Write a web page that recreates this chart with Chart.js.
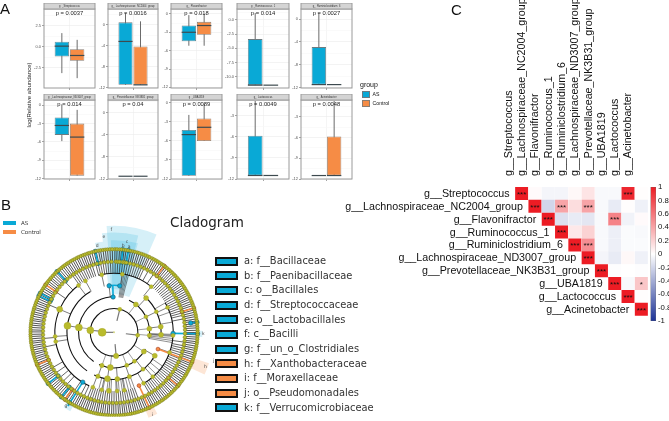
<!DOCTYPE html>
<html>
<head>
<meta charset="utf-8">
<script src="https://cdn.jsdelivr.net/npm/chart.js@4"></script>
<style>
  html, body { margin: 0; padding: 0; background: #fff; }
  body { position: relative; width: 669px; height: 421px; overflow: hidden; font-family: "Liberation Sans", sans-serif; }
  canvas { position: absolute; }
  .t { position: absolute; white-space: pre; color: #111; }
  .sw { position: absolute; box-sizing: border-box; }
</style>
</head>
<body>
<script>
// genera, shared by the box panels and the correlation matrix
const genera = ["Streptococcus", "Lachnospiraceae_NC2004_group", "Flavonifractor", "Ruminococcus_1",
  "Ruminiclostridium_6", "Lachnospiraceae_ND3007_group", "Prevotellaceae_NK3B31_group", "UBA1819",
  "Lactococcus", "Acinetobacter"];

// A: box panels
const pLabels = ["0.0037", "0.0016", "0.018", "0.014", "0.0027", "0.014", "0.04", "0.0089", "0.0049", "0.0048"];
const asLow = [-3.13, -11.5, -5.2, -11.5, -11.5, -5.86, -11.5, -11.5, -11.5, -11.5];
const asQ1 = [-1.15, -11.5, -4.46, -11.5, -11.5, -4.84, -11.5, -11.5, -11.5, -11.5];
const asMedian = [0.08, -3.2, -3, -11.5, -11.5, -3.3, -11.5, -5, -11.5, -11.5];
const asQ3 = [0.6, 0.45, -1.9, -3.4, -4.9, -2, -11.5, -4.27, -5.85, -11.5];
const asHigh = [1.63, 2.2, -0.2, 1.2, 1.1, 0.16, -11.5, -1.9, -0.9, -11.5];
const ctlLow = [-3.73, -11.5, -5.2, -11.5, -11.5, -11.5, -11.5, -6, -11.5, -11.5];
const ctlQ1 = [-1.67, -11.5, -3.4, -11.5, -11.5, -11.5, -11.5, -6, -11.5, -11.5];
const ctlMedian = [-1.03, -11.5, -1.9, -11.5, -11.5, -5.2, -11.5, -3.85, -11.5, -11.5];
const ctlQ3 = [-0.28, -4.17, -1.3, -11.5, -11.5, -3, -11.5, -2.45, -11.5, -5.85];
const ctlHigh = [0.83, 0.64, 0, -11.5, -11.5, -0.75, -11.5, -0.2, -11.5, -0.75];
const yMins = [-4.9, -12.1, -12.1, -12, -12.1, -12.05, -12, -12, -12, -12];
const yMaxs = [4.5, 3, 0.8, 1.9, 1.8, 0.86, 2.3, 0.45, -0.76, -0.6];
const yTicks = [[2.5, 0, -2.5], [0, -4, -8, -12], [0, -3, -6, -9, -12], [0, -2.5, -5, -7.5, -10], [0, -4, -8, -12],
  [0, -3, -6, -9, -12], [0, -4, -8, -12], [0, -3, -6, -9, -12], [-3, -6, -9, -12], [-3, -6, -9, -12]];
const yDecimals = [1, 0, 0, 1, 0, 0, 0, 0, 0, 0];

// C: correlations, upper triangle, one row per genus starting at its diagonal
const corrRows = [
  [1, 0.02, -0.05, -0.05, 0.03, 0.12, -0.03, -0.03, 0.95, 0.01],
  [1, -0.2, 0.4, 0.15, 0.4, -0.03, -0.1, 0.01, -0.07],
  [1, -0.15, -0.1, -0.12, -0.03, 0.55, -0.06, 0.02],
  [1, 0.1, 0.2, -0.03, -0.08, -0.02, -0.03],
  [1, 0.5, -0.03, -0.08, -0.02, -0.02],
  [1, -0.05, -0.1, 0.03, -0.07],
  [1, -0.01, 0, -0.01],
  [1, -0.03, 0.25],
  [1, 0.01],
  [1]
];
const corrStars = [
  ["***", "", "", "", "", "", "", "", "***", ""],
  ["***", "", "***", "", "***", "", "", "", ""],
  ["***", "", "", "", "", "***", "", ""],
  ["***", "", "", "", "", "", ""],
  ["***", "***", "", "", "", ""],
  ["***", "", "", "", ""],
  ["***", "", "", ""],
  ["***", "", "*"],
  ["***", ""],
  ["***"]
];
const barTicks = [1, 0.8, 0.6, 0.4, 0.2, 0, -0.2, -0.4, -0.6, -0.8, -1];

// B: cladogram, angles in degrees clockwise from the top, levels are rings
const ringRadius = [0, 12.4, 24.8, 37, 49, 61.5, 74, 87];
const tipAngles = [0.6,2.1,3.8,5.2,6.9,8.3,9.7,11.4,13,14.5,16.2,17.6,19.3,20.8,22.4,24,25.3,27.1,28.6,30.2,31.7,33.3,35,36.4,38.1,39.5,41.2,42.8,44.3,45.9,47.4,49.1,50.6,52.2,53.8,55.3,57,58.4,60.1,61.7,63.2,64.9,66.3,68,69.6,71.1,72.8,74.3,75.9,77.5,79,80.7,82.1,83.8,85.4,86.9,88.6,90.1,91.7,93.3,94.8,96.5,97.9,99.6,101.2,102.7,104.4,105.8,107.5,109.1,110.6,112.3,113.7,115.4,117,118.5,120.2,121.6,123.3,124.9,126.4,128.1,129.5,131.2,132.8,134.3,136,137.4,139.1,140.7,142.2,143.9,145.3,147,148.6,150.1,151.8,153.2,154.9,156.5,158,159.7,161.1,162.8,164.4,165.9,167.6,169,170.7,172.3,173.8,175.5,176.9,178.6,180.2,181.7,183.4,184.8,186.5,188.1,189.6,191.3,192.7,194.4,196,197.5,199.2,200.6,202.3,203.9,205.4,207.1,208.5,210.2,211.8,213.3,215,216.4,218.1,219.7,221.2,222.9,224.3,226,227.6,229.1,230.8,232.2,233.9,235.5,237,238.7,240.1,241.8,243.4,244.9,246.6,248,249.7,251.3,252.8,254.5,255.9,257.6,259.2,260.7,262.4,263.8,265.5,267.1,268.6,270.3,271.7,273.4,275,276.5,278.2,279.6,281.3,282.9,284.4,286.1,287.5,289.2,290.8,292.3,294,295.4,297.1,298.7,300.2,301.9,303.3,305,306.6,308.1,309.8,311.2,312.9,314.5,316,317.7,319.1,320.8,322.4,323.9,325.6,327,328.7,330.3,331.8,333.5,334.9,336.6,338.2,339.7,341.4,342.8,344.5,346.1,347.6,349.3,350.7,352.4,354,355.5,357.2,358.8];
const midAngles = [1.5,3,4.5,7,8.5,10,13,16,19,22,25,28,31,34,37,40,43,46,49,52,55,58,61,64,67,70,73,76,79,82,85,88,91,94,97,100,103,106,109,112,115,118,121,124,127,130,133,136,139,142,145,148,151,154,157,160,163,166,169,172,175,178,181,184,187,190,193,196,199,202,205,208,211,214,217,220,223,226,229,232,235,238,241,244,247,250,253,256,259,262,265,268,271,274,277,280,283,286,289,292,295,298,301,304,307,310,313,316,319,322,325,328,331,334,337,340,343,346,349,352,355,358];
const midSpokes = [324,326,328,330,332,334,336,338,340,342,345,347,349,351,353,355,357,359,1,3,5,7,9,11,13,15,17,19,21,23,25,29,34,40,42,44,46,48,50,52,54,56,58,60,62,64,66,68,70,72,74,76,79,98,101,103,105,107,109,112,114,116,118,120,122,124,126,128,130,132,134,136,138,140,142,144,146,148,150,160,162,164,166,168,170,172,174,176,178,180,182,184,186,188,190,192,194,196,198,200,202,205,208,214,222,226,230,235,240,258,265,293,305,316];
const fanAngles = [160, 163, 166, 169, 172, 175, 178, 183, 187, 191, 195, 8, 9.5, 11, 12.5, 14, 92, 94, 96, 98, 100, 125, 130, 135, 60, 70, 80];
const fanFrom = [4, 4, 4, 4, 4, 4, 4, 4, 4, 4, 4, 3, 3, 3, 3, 3, 3, 3, 3, 3, 3, 4, 4, 4, 4, 4, 4];
const fanTo = [5, 5, 5, 5, 5, 5, 5, 5, 5, 5, 5, 5, 5, 5, 5, 5, 5, 5, 5, 5, 5, 5, 5, 5, 5, 5, 5];
const innerLevels = [1,2,2,2,2,3,4,5,5,5,5,5,5,3,4,5,3,3,4,5,4,5,4,3,4,3,4,5,3,4,5,3,3,3,4,5,4,4,5,5,4,5,5,5,5];
const innerAngles = [270,275,14,97,175,278,278,293,261,266,323,331,8,38,43,39,84,64,64,65,83,93,93,123,120,145,142,139,186,188,185,159,200,95,200,201,176,161,177,348,354,110,150,170,192];
const innerSizes = [4,3.5,2,2,2.6,3.5,3.5,3,2,2,2,2,2,2.5,2.5,2,2.5,2,2,2,2.5,2,2.5,2.5,2.5,2,2,2,3,3,2.5,2,2.2,2.2,2.2,2,2.5,2.2,2,2,0,2,2,2,2];
const arcLevels = [2, 3, 3, 3, 4, 4, 4, 5, 5, 5];
const arcStarts = [0, 215, 25, 118, 215, 40, 118, 205, 345, 60];
const arcEnds = [360, 360, 100, 205, 330, 95, 205, 325, 40, 150];
const asBranchAngles = [347, 6, 10, 296, 298, 317, 232, 219, 212, 91, 83];
const asBranchFrom = [6, 6, 6, 6, 6, 6, 6, 6, 5, 5, 6.5];
const asBranchTo = [7, 7, 7, 7, 7, 7, 7, 7, 7.3, 7, 7];
const ctlBranchAngles = [305, 247, 216, 73, 37, 111, 130, 155];
const ctlBranchFrom = [6, 6, 6, 6, 6, 4, 6, 5];
const ctlBranchTo = [7, 7, 7, 7, 7, 7, 7, 7];
const wedgeStarts = [-4, -7, -2, 0, 4, -12, 108, 152, 209, 89];
const wedgeEnds = [23.5, 14, 15, 8, 10, -7, 115, 158, 214, 93];
const wedgeOuter = [111, 104, 96, 87, 87, 95, 104, 96, 94, 92];
const wedgeInner = [40, 45, 50, 60, 62, 74, 88, 88, 88, 88];
const wedgeGroup = ["AS", "AS", "AS", "AS", "AS", "AS", "Control", "Control", "AS", "AS"];
const cladeMarks = ["f", "e", "c", "b", "a", "d", "h", "i", "g", "k", "j"];
const cladeAngles = [-1.5, -6, 8, 6, 10, -11, 111, 155, 213, 91, 106];
const cladeRadii = [107, 100, 96, 91, 91, 92, 102, 95, 92, 93, 108];
const cladeEntries = ["a: f__Bacillaceae", "b: f__Paenibacillaceae", "c: o__Bacillales", "d: f__Streptococcaceae",
  "e: o__Lactobacillales", "f: c__Bacilli", "g: f__un_o_Clostridiales", "h: f__Xanthobacteraceae",
  "i: f__Moraxellaceae", "j: o__Pseudomonadales", "k: f__Verrucomicrobiaceae"];
const cladeEntryGroup = ["AS", "AS", "AS", "AS", "AS", "AS", "AS", "Control", "Control", "Control", "AS"];

const groupColor = { AS: "#09a9d6", Control: "#f68c45" };
const olive = "#b9bb2c";

function addText(str, left, top, size, extra) {
  const d = document.createElement("div");
  d.className = "t";
  d.textContent = str;
  d.style.cssText = "left:" + left + "px;top:" + top + "px;font-size:" + size + "px;line-height:1;" + (extra || "");
  document.body.appendChild(d);
}
function addSwatch(left, top, w, h, color, border) {
  const d = document.createElement("div");
  d.className = "sw";
  d.style.cssText = "left:" + left + "px;top:" + top + "px;width:" + w + "px;height:" + h + "px;background:" + color + ";" + (border || "");
  document.body.appendChild(d);
}
function addCanvas(left, top, w, h) {
  const c = document.createElement("canvas");
  c.width = w; c.height = h;
  c.style.cssText = "left:" + left + "px;top:" + top + "px;width:" + w + "px;height:" + h + "px;";
  document.body.appendChild(c);
  return c;
}

// ---- panel A ----
const panelLefts = [44, 108, 171, 237, 301, 44, 108, 171, 237, 301];
const panelRights = [95, 158, 222, 289, 352, 95, 158, 222, 289, 352];
const stripTops = [3, 3, 3, 3, 3, 94, 94, 94, 94, 94];
const panelBottoms = [88, 88, 88, 88, 88, 179, 179, 179, 179, 179];

const boxPlugin = {
  id: "boxParts",
  beforeDatasetsDraw(chart, args, opts) {
    const { ctx, scales: { y } } = chart;
    ctx.save();
    [opts.as, opts.ctl].forEach((s, i) => {
      const el = chart.getDatasetMeta(i).data[0];
      ctx.strokeStyle = "#6b6b6b";
      ctx.lineWidth = 1;
      ctx.beginPath();
      ctx.moveTo(el.x, y.getPixelForValue(s.low));
      ctx.lineTo(el.x, y.getPixelForValue(s.high));
      ctx.stroke();
    });
    ctx.restore();
  },
  afterDatasetsDraw(chart, args, opts) {
    const { ctx, chartArea: a, scales: { y } } = chart;
    ctx.save();
    [opts.as, opts.ctl].forEach((s, i) => {
      const el = chart.getDatasetMeta(i).data[0];
      const py = y.getPixelForValue(s.median);
      ctx.strokeStyle = "#3d4a4f";
      ctx.lineWidth = 1.2;
      ctx.beginPath();
      ctx.moveTo(el.x - el.width / 2, py);
      ctx.lineTo(el.x + el.width / 2, py);
      ctx.stroke();
    });
    // panel frame and strip
    ctx.strokeStyle = "#9a9a9a";
    ctx.lineWidth = 1;
    ctx.strokeRect(a.left, a.top, a.right - a.left, a.bottom - a.top);
    ctx.fillStyle = "#d4d4d4";
    ctx.fillRect(a.left, a.top - 6, a.right - a.left, 6);
    ctx.strokeRect(a.left, a.top - 6, a.right - a.left, 6);
    ctx.fillStyle = "#333";
    ctx.textAlign = "center";
    ctx.textBaseline = "middle";
    ctx.font = '2.6px "Liberation Sans"';
    ctx.fillText(opts.strip, (a.left + a.right) / 2, a.top - 3);
    ctx.font = '5.8px "Liberation Sans"';
    ctx.fillStyle = "#222";
    ctx.fillText("p = " + opts.p, (a.left + a.right) / 2, a.top + 4.2);
    ctx.restore();
  }
};

genera.forEach((name, i) => {
  const w = panelRights[i] - panelLefts[i];
  const h = panelBottoms[i] - stripTops[i];
  const labelled = yTicks[i];
  new Chart(addCanvas(panelLefts[i] - 20, stripTops[i], w + 21, h + 5), {
    type: "bar",
    data: {
      labels: [""],
      datasets: [
        { label: "AS", data: [[asQ1[i], asQ3[i]]], backgroundColor: groupColor.AS, borderColor: "#6d7b80", borderWidth: 0.8, borderSkipped: false },
        { label: "Control", data: [[ctlQ1[i], ctlQ3[i]]], backgroundColor: groupColor.Control, borderColor: "#8a7d72", borderWidth: 0.8, borderSkipped: false }
      ]
    },
    plugins: [boxPlugin],
    options: {
      responsive: false,
      animation: false,
      devicePixelRatio: 1,
      layout: { padding: { top: 6, right: 1, left: 0, bottom: 0 } },
      datasets: { bar: { categoryPercentage: 0.6, barPercentage: 0.94 } },
      plugins: {
        legend: { display: false },
        tooltip: { enabled: false },
        boxParts: {
          strip: "g__" + name, p: pLabels[i],
          as: { low: asLow[i], median: asMedian[i], high: asHigh[i] },
          ctl: { low: ctlLow[i], median: ctlMedian[i], high: ctlHigh[i] }
        }
      },
      scales: {
        x: {
          grid: { offset: false, color: "#eeeeee", lineWidth: 0.6, tickColor: "#666", tickLength: 2 },
          border: { display: false },
          ticks: { padding: 0, font: { size: 1 }, callback: () => "" },
          afterFit: s => { s.height = 5; }
        },
        y: {
          min: yMins[i],
          max: yMaxs[i],
          grid: {
            color: c => (labelled.includes(c.tick.value) ? "#ebebeb" : "#f6f6f6"),
            lineWidth: 0.6,
            tickColor: c => (labelled.includes(c.tick.value) ? "#666" : "rgba(0,0,0,0)"),
            tickLength: 2
          },
          border: { display: false },
          afterBuildTicks: s => {
            const step = Math.abs(labelled[0] - labelled[1]);
            const out = [];
            labelled.forEach(v => {
              out.push({ value: v });
              if (v + step / 2 < yMaxs[i]) out.push({ value: v + step / 2 });
            });
            s.ticks = out;
          },
          ticks: {
            autoSkip: false,
            padding: 1,
            color: "#555",
            font: { size: 4, family: "Liberation Sans" },
            callback: v => (labelled.includes(v) ? v.toFixed(yDecimals[i]) : "")
          },
          afterFit: s => { s.width = 20; }
        }
      }
    }
  });
});

addText("A", 0, 1, 15);
addText("log(Relative abundance)", 29, 95, 6, "color:#222;transform:translate(-50%,-50%) rotate(-90deg);");
addText("group", 360, 81, 7);
addSwatch(362, 90.5, 8, 7.5, groupColor.AS, "border:1px solid #6d7b80;");
addSwatch(362, 99.5, 8, 7.5, groupColor.Control, "border:1px solid #8a7d72;");
addText("AS", 372.5, 91.5, 5.2);
addText("Control", 372.5, 100.5, 5.2);

// ---- panel B ----
const polar = (deg, radius) => ({ x: radius * Math.sin(deg * Math.PI / 180), y: radius * Math.cos(deg * Math.PI / 180) });
const ringPoint = (deg, level) => {
  const lo = Math.floor(level);
  const r = lo >= 7 ? ringRadius[7] + (level - 7) * 13 : ringRadius[lo] + (level - lo) * (ringRadius[lo + 1] - ringRadius[lo]);
  return polar(deg, r);
};

const cladoPlugin = {
  id: "cladoParts",
  beforeDatasetsDraw(chart) {
    const { ctx, scales: { x, y } } = chart;
    const px = p => [x.getPixelForValue(p.x), y.getPixelForValue(p.y)];
    const unit = Math.abs(x.getPixelForValue(1) - x.getPixelForValue(0));
    const [cx, cy] = px({ x: 0, y: 0 });
    const toRad = d => (d - 90) * Math.PI / 180;
    const line = (deg, from, to, color, width) => {
      const a = px(ringPoint(deg, from));
      const b = px(ringPoint(deg, to));
      ctx.strokeStyle = color;
      ctx.lineWidth = width;
      ctx.beginPath();
      ctx.moveTo(a[0], a[1]);
      ctx.lineTo(b[0], b[1]);
      ctx.stroke();
    };
    ctx.save();
    // shaded clades
    wedgeStarts.forEach((s, i) => {
      ctx.fillStyle = wedgeGroup[i] === "AS" ? "rgba(9,169,214,0.17)" : "rgba(246,140,69,0.22)";
      ctx.beginPath();
      ctx.arc(cx, cy, wedgeOuter[i] * unit, toRad(s), toRad(wedgeEnds[i]));
      ctx.arc(cx, cy, wedgeInner[i] * unit, toRad(wedgeEnds[i]), toRad(s), true);
      ctx.closePath();
      ctx.fill();
    });
    // dense tip band, then the sparser inner branches
    tipAngles.forEach(a => line(a, 6, 7, "#333", 0.85));
    midSpokes.forEach(a => line(a, 5, 6, "#222", 0.7));
    fanAngles.forEach((a, i) => line(a, fanFrom[i], fanTo[i], "#444", 0.6));
    innerAngles.forEach((a, i) => line(a, innerLevels[i] - 1, innerLevels[i], innerLevels[i] < 4 ? "#777" : "#444", innerLevels[i] < 3 ? 1.2 : 0.7));
    ctx.strokeStyle = "#111";
    arcLevels.forEach((lv, i) => {
      ctx.lineWidth = 1.1;
      ctx.beginPath();
      ctx.arc(cx, cy, ringRadius[lv] * unit, toRad(arcStarts[i]), toRad(arcEnds[i]));
      ctx.stroke();
    });
    ctx.strokeStyle = "#666";
    ctx.lineWidth = 0.5;
    ctx.beginPath();
    ctx.arc(cx, cy, ringRadius[6] * unit, 0, Math.PI * 2);
    ctx.stroke();
    // enriched branches
    asBranchAngles.forEach((a, i) => line(a, asBranchFrom[i], asBranchTo[i], groupColor.AS, 1.6));
    ctlBranchAngles.forEach((a, i) => line(a, ctlBranchFrom[i], ctlBranchTo[i], groupColor.Control, 1.6));
    line(358.5, 3, 4, groupColor.AS, 1.6);
    ctx.strokeStyle = groupColor.AS;
    ctx.lineWidth = 1.6;
    ctx.beginPath();
    ctx.arc(cx, cy, ringRadius[4] * unit, toRad(354), toRad(367));
    ctx.stroke();
    ctx.restore();
  },
  afterDatasetsDraw(chart) {
    const { ctx, scales: { x, y } } = chart;
    ctx.save();
    ctx.fillStyle = "#444";
    ctx.font = '4.5px "DejaVu Sans"';
    ctx.textAlign = "center";
    ctx.textBaseline = "middle";
    cladeMarks.forEach((m, i) => {
      const p = polar(cladeAngles[i], cladeRadii[i]);
      ctx.fillText(m, x.getPixelForValue(p.x), y.getPixelForValue(p.y));
    });
    ctx.restore();
  }
};

const enrichedNodes = (angles, from, to) => angles.flatMap((a, i) => [ringPoint(a, from[i]), ringPoint(a, Math.min(to[i], 7))]);

new Chart(addCanvas(0, 215, 230, 206), {
  type: "scatter",
  data: {
    datasets: [
      { data: [ringPoint(0, 0)], pointRadius: 1, backgroundColor: "#d9dc8c", borderWidth: 0 },
      { data: innerAngles.map((a, i) => ringPoint(a, innerLevels[i])), pointRadius: innerSizes, backgroundColor: olive, borderColor: "#a3a52a", borderWidth: 0.4 },
      { data: midAngles.map(a => ringPoint(a, 6)), pointRadius: 1.8, backgroundColor: olive, borderColor: "#77791f", borderWidth: 0.5 },
      { data: tipAngles.map(a => ringPoint(a, 7)), pointRadius: 1.7, backgroundColor: olive, borderColor: "#77791f", borderWidth: 0.5 },
      { data: enrichedNodes(asBranchAngles, asBranchFrom, asBranchTo).concat(ringPoint(358.5, 3), ringPoint(354, 4), ringPoint(7, 4)), pointRadius: 2.2, backgroundColor: groupColor.AS, borderColor: "#1c5c70", borderWidth: 0.6 },
      { data: enrichedNodes(ctlBranchAngles, ctlBranchFrom, ctlBranchTo), pointRadius: 1.9, backgroundColor: groupColor.Control, borderColor: "#a33b22", borderWidth: 0.6 }
    ]
  },
  plugins: [cladoPlugin],
  options: {
    responsive: false,
    animation: false,
    devicePixelRatio: 1,
    layout: { padding: 0 },
    plugins: { legend: { display: false }, tooltip: { enabled: false } },
    scales: {
      x: { display: false, min: -114, max: 116 },
      y: { display: false, min: -88, max: 118 }
    }
  }
});

addText("B", 1, 197, 15);
addSwatch(3, 221, 13, 4, groupColor.AS);
addSwatch(3, 230, 13, 4, groupColor.Control);
addText("AS", 21, 220.5, 5.5, 'font-family:"DejaVu Sans";color:#333;');
addText("Control", 21, 229.5, 5.5, 'font-family:"DejaVu Sans";color:#333;');
addText("Cladogram", 170, 215.5, 13.5, 'font-family:"DejaVu Sans";color:#222;');
cladeEntries.forEach((e, i) => {
  const top = 256.5 + i * 14.67;
  addSwatch(215, top, 22.5, 9, groupColor[cladeEntryGroup[i]], "border:2px solid #111;");
  addText(e, 244, top - 0.5, 9.9, 'font-family:"DejaVu Sans";color:#333;');
});

// ---- panel C ----
const mix = (a, b, t) => a.map((v, i) => Math.round(v + (b[i] - v) * t));
const corrColor = v => {
  const c = v >= 0 ? mix([255, 255, 255], [236, 28, 36], v) : mix([255, 255, 255], [28, 50, 150], -v);
  return "rgb(" + c.join(",") + ")";
};
const corrCells = [];
corrRows.forEach((row, r) => row.forEach((v, k) => corrCells.push({ x: genera[r + k], y: genera[r], v: v, s: corrStars[r][k], row: r })));

const corrPlugin = {
  id: "corrText",
  afterDatasetsDraw(chart) {
    const { ctx, scales: { x, y } } = chart;
    ctx.save();
    ctx.fillStyle = "#111";
    ctx.textBaseline = "middle";
    ctx.font = '8px "Liberation Sans"';
    ctx.textAlign = "center";
    corrCells.forEach(c => {
      if (c.s) ctx.fillText(c.s, x.getPixelForValue(c.x), y.getPixelForValue(c.y) + 1);
    });
    ctx.textAlign = "right";
    ctx.font = '10.7px "Liberation Sans"';
    genera.forEach((g, r) => {
      ctx.fillText("g__" + g, x.getPixelForValue(g) - 12, y.getPixelForValue(g) + 0.5);
    });
    ctx.restore();
  }
};

new Chart(addCanvas(340, 0, 329, 325), {
  type: "scatter",
  data: {
    datasets: [{
      data: corrCells,
      pointStyle: "rect",
      pointRadius: 9.2,
      borderWidth: 0,
      backgroundColor: corrCells.map(c => corrColor(c.v))
    }]
  },
  plugins: [corrPlugin],
  options: {
    responsive: false,
    animation: false,
    devicePixelRatio: 1,
    layout: { padding: { left: 175, right: 21, top: 0, bottom: 4 } },
    plugins: { legend: { display: false }, tooltip: { enabled: false } },
    scales: {
      x: {
        type: "category",
        position: "top",
        labels: genera,
        offset: true,
        grid: { display: false },
        border: { display: false },
        ticks: {
          autoSkip: false, minRotation: 90, maxRotation: 90, padding: 3,
          color: "#111", font: { size: 10.7, family: "Liberation Sans" },
          callback: function (v) { return "g__" + this.getLabelForValue(v); }
        },
        afterFit: s => { s.height = 187; }
      },
      y: {
        type: "category",
        labels: genera,
        offset: true,
        display: false
      }
    }
  }
});

new Chart(addCanvas(645, 180, 24, 150), {
  type: "bar",
  data: {
    labels: [""],
    datasets: [{
      data: [[-1, 1]],
      barPercentage: 1,
      categoryPercentage: 1,
      borderColor: "#666",
      borderWidth: 0.6,
      borderSkipped: false,
      backgroundColor: c => {
        const a = c.chart.chartArea;
        if (!a) return "#fff";
        const g = c.chart.ctx.createLinearGradient(0, a.bottom, 0, a.top);
        g.addColorStop(0, corrColor(-1));
        g.addColorStop(0.5, corrColor(0));
        g.addColorStop(1, corrColor(1));
        return g;
      }
    }]
  },
  options: {
    responsive: false,
    animation: false,
    devicePixelRatio: 1,
    layout: { padding: { top: 7, bottom: 9, left: 5.5, right: 0 } },
    plugins: { legend: { display: false }, tooltip: { enabled: false } },
    scales: {
      x: { display: false },
      y: {
        position: "right",
        min: -1,
        max: 1,
        grid: { display: false, drawTicks: false },
        border: { display: false },
        afterBuildTicks: s => { s.ticks = barTicks.map(v => ({ value: v })); },
        ticks: {
          autoSkip: false, padding: 2, color: "#111",
          font: { size: 7.8, family: "Liberation Sans" },
          callback: v => String(+v.toFixed(1))
        },
        afterFit: s => { s.width = 13; }
      }
    }
  }
});

addText("C", 451, 2, 15);
</script>
</body>
</html>
